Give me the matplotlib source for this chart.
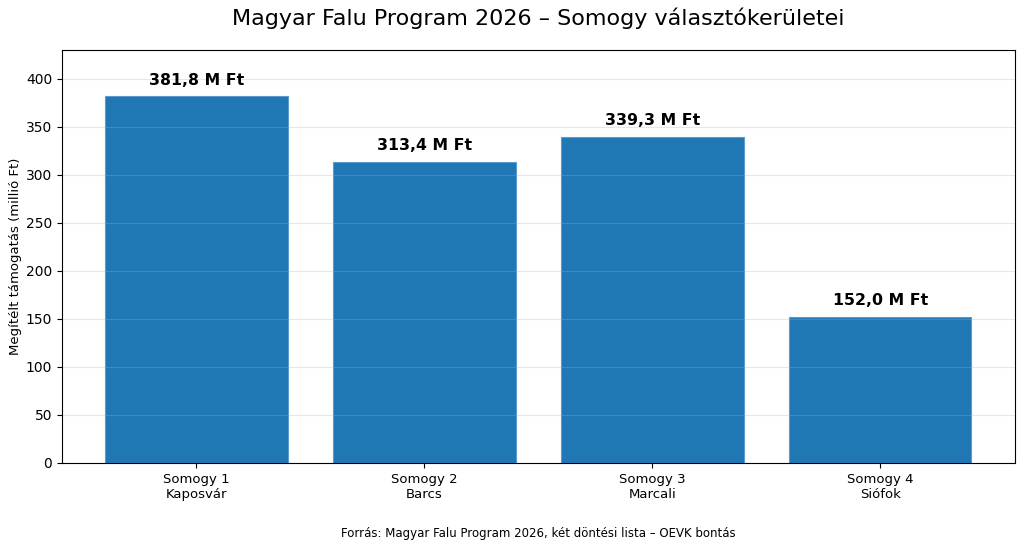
import matplotlib.pyplot as plt

districts = ['Somogy 1\nKaposvár', 'Somogy 2\nBarcs', 'Somogy 3\nMarcali', 'Somogy 4\nSiófok']
support = [381.8, 313.4, 339.3, 152.0]

fig, ax = plt.subplots(figsize=(10.24, 5.49), dpi=100)
fig.subplots_adjust(left=0.0605, right=0.991, top=0.909, bottom=0.157)

bars = ax.bar(districts, support, width=0.8, color='#1f77b4', edgecolor='#5b9bd0', linewidth=0.8)
for b, v in zip(bars, support):
    ax.text(b.get_x() + b.get_width() / 2, v + 9, f'{v:.1f}'.replace('.', ',') + ' M Ft',
            ha='center', va='bottom', fontsize=11.3, fontweight='bold')

ax.set_ylim(0, 430)
ax.set_ylabel('Megítélt támogatás (millió Ft)', fontsize=9.5, labelpad=3)
ax.set_title('Magyar Falu Program 2026 – Somogy választókerületei', fontsize=16, pad=18)
ax.grid(axis='y', alpha=0.3)
ax.tick_params(axis='x', labelsize=9.5)
ax.tick_params(axis='y', labelsize=10)

fig.text(0.526, 0.028, 'Forrás: Magyar Falu Program 2026, két döntési lista – OEVK bontás',
         ha='center', va='center', fontsize=8.5)

plt.savefig('out.png', dpi=100)
